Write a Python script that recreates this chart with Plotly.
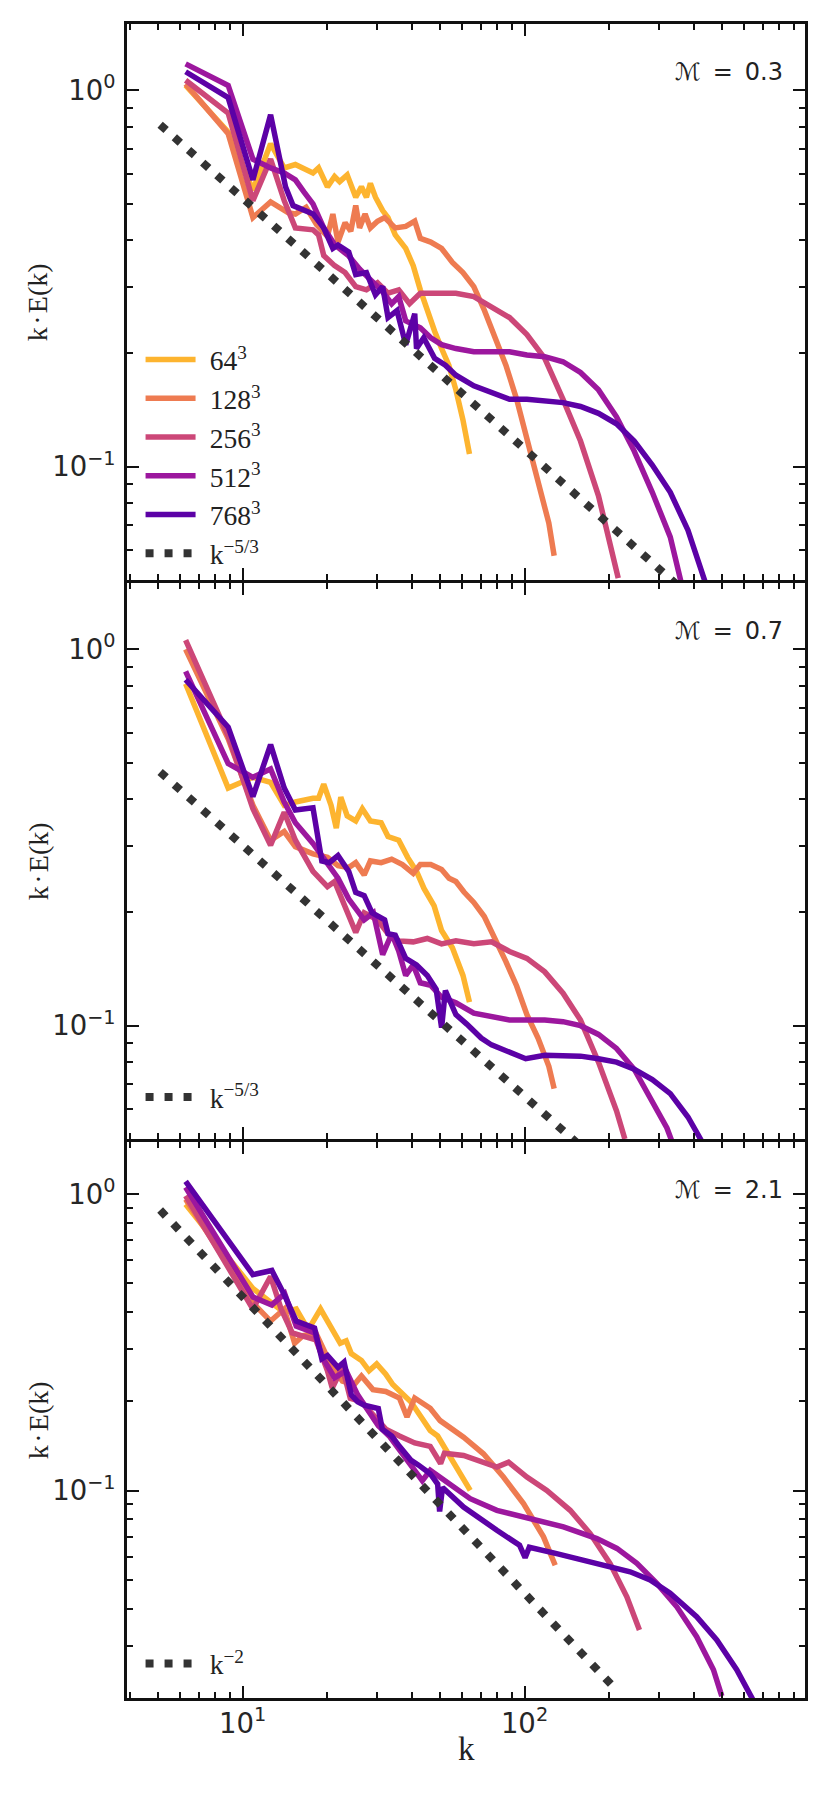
import plotly.graph_objects as go
from plotly.subplots import make_subplots

# resolutions and colours (plasma-like)
labels = ["64<sup>3</sup>", "128<sup>3</sup>", "256<sup>3</sup>", "512<sup>3</sup>", "768<sup>3</sup>"]
colors = ["#FDB42F", "#EE7B51", "#CC4778", "#9C179E", "#5C01A6"]
mach_labels = ["0.3", "0.7", "2.1"]
slope_labels = ["k<sup>\u22125/3</sup>", "k<sup>\u22125/3</sup>", "k<sup>\u22122</sup>"]

# ---- panel 1 : M = 0.3 ----
p1_64_k = [6.28, 8.89, 10.88, 12.57, 14.05, 15.39, 17.77, 18.6, 20.0, 21.2, 22.1, 23.5, 25.2, 26.4, 27.5, 28.4, 29.6,
           31.4, 32.8, 34.8, 37.9, 40.3, 42.7, 45.2, 48.0, 50.8, 53.9, 57.1, 60.5, 63.8]
p1_64_y = [1.03, 0.775, 0.543, 0.721, 0.622, 0.635, 0.603, 0.622, 0.554, 0.59, 0.572, 0.596, 0.52, 0.554, 0.52, 0.566,
           0.52, 0.479, 0.459, 0.413, 0.38, 0.342, 0.295, 0.26, 0.229, 0.206, 0.186, 0.16, 0.133, 0.108]
p1_128_k = [6.28, 8.89, 10.88, 12.57, 14.5, 15.39, 16.8, 18.3, 20.0, 20.9, 21.8, 23.1, 24.2, 25.2, 26.0, 27.2, 28.4,
            30.1, 31.9, 34.8, 37.9, 40.8, 42.7, 46.5, 50.8, 55.5, 60.5, 66.1, 72.1, 78.7, 85.9, 93.8, 102, 111.7, 122, 127.4]
p1_128_y = [1.04, 0.767, 0.459, 0.505, 0.473, 0.469, 0.489, 0.44, 0.409, 0.469, 0.395, 0.445, 0.422, 0.494, 0.431,
            0.469, 0.431, 0.449, 0.459, 0.431, 0.435, 0.449, 0.404, 0.395, 0.38, 0.349, 0.328, 0.301, 0.26, 0.22, 0.186,
            0.151, 0.1197, 0.093, 0.0708, 0.058]
p1_256_k = [6.28, 8.89, 10.88, 12.57, 14.05, 15.39, 17.77, 18.6, 19.4, 21.2, 23.1, 25.2, 27.5, 30.1, 32.8, 35.8, 39.1,
            42.7, 49.4, 57.1, 66.1, 76.4, 88.5, 102, 118, 137, 158, 183, 200, 215]
p1_256_y = [1.063, 0.87, 0.509, 0.656, 0.509, 0.431, 0.426, 0.413, 0.364, 0.342, 0.328, 0.301, 0.295, 0.308, 0.289,
            0.295, 0.271, 0.289, 0.289, 0.289, 0.283, 0.266, 0.249, 0.2245, 0.194, 0.151, 0.117, 0.0837, 0.0623, 0.0506]
p1_512_k = [6.28, 8.89, 10.88, 12.57, 14.05, 15.39, 16.5, 17.77, 19.4, 21.2, 23.8, 26.0, 28.4, 31.0, 33.8, 35.8, 37.9,
            42.7, 46.5, 50.8, 57.1, 66.1, 76.4, 88.5, 102, 118, 137, 158, 183, 212, 245, 284, 329, 353, 370]
p1_512_y = [1.175, 1.03, 0.656, 0.622, 0.603, 0.578, 0.537, 0.499, 0.431, 0.389, 0.363, 0.335, 0.314, 0.295, 0.271,
            0.283, 0.244, 0.234, 0.22, 0.211, 0.206, 0.202, 0.202, 0.202, 0.198, 0.196, 0.19, 0.178, 0.16, 0.1357, 0.11,
            0.0855, 0.065, 0.0527, 0.045]
p1_768_k = [6.28, 8.89, 10.88, 12.57, 14.2, 15.1, 17.8, 19.4, 20.9, 21.8, 23.8, 25.2, 27.5, 29.6, 31.4, 32.8, 35.3,
            37.9, 40.8, 41.4, 43.9, 48.0, 52.4, 57.1, 66.1, 76.4, 88.5, 102, 118, 137, 158, 183, 212, 245, 284, 329, 380,
            434, 470]
p1_768_y = [1.12, 0.956, 0.578, 0.861, 0.554, 0.494, 0.469, 0.431, 0.38, 0.388, 0.372, 0.324, 0.328, 0.286, 0.301,
            0.249, 0.26, 0.211, 0.255, 0.206, 0.22, 0.194, 0.186, 0.175, 0.164, 0.157, 0.151, 0.151, 0.149, 0.148,
            0.1445, 0.1386, 0.13, 0.117, 0.101, 0.0855, 0.0678, 0.0506, 0.042]
p1_ref_k = [5.1, 1000]
p1_ref_y = [0.81, 0.024]

# ---- panel 2 : M = 0.7 ----
p2_64_k = [6.28, 8.89, 10.88, 12.57, 14.05, 15.39, 17.77, 18.6, 19.4, 20.6, 21.5, 22.3, 23.5, 25.2, 26.6, 28.4, 31.0,
           32.8, 35.8, 38.5, 41.4, 44.0, 47.8, 50.8, 55.5, 60.5, 63.8]
p2_64_y = [0.81, 0.428, 0.457, 0.443, 0.385, 0.393, 0.402, 0.402, 0.438, 0.385, 0.335, 0.405, 0.361, 0.35, 0.377, 0.35,
           0.346, 0.318, 0.311, 0.28, 0.257, 0.2315, 0.208, 0.179, 0.161, 0.136, 0.1155]
p2_128_k = [6.28, 8.89, 10.88, 12.57, 14.05, 15.39, 17.77, 20.0, 21.8, 23.8, 25.2, 27.0, 28.4, 31.0, 33.8, 36.9, 40.3,
            42.7, 46.5, 50.8, 54.0, 57.1, 61.0, 66.1, 72.0, 78.7, 85.9, 93.8, 102, 111.7, 122, 127.4]
p2_128_y = [1.0, 0.578, 0.385, 0.311, 0.328, 0.299, 0.286, 0.28, 0.266, 0.263, 0.271, 0.2515, 0.274, 0.271, 0.277,
            0.268, 0.254, 0.268, 0.268, 0.26, 0.2465, 0.2415, 0.2265, 0.2125, 0.195, 0.171, 0.148, 0.1275, 0.107,
            0.0927, 0.078, 0.068]
p2_256_k = [6.28, 8.89, 10.88, 12.57, 14.05, 15.39, 17.77, 20.0, 21.2, 23.1, 25.2, 27.0, 30.1, 32.8, 35.8, 40.3, 45.2,
            50.8, 57.1, 66.1, 76.4, 88.5, 102, 118, 137, 158, 183, 212, 227]
p2_256_y = [1.057, 0.589, 0.377, 0.3015, 0.369, 0.311, 0.257, 0.234, 0.2415, 0.208, 0.177, 0.1995, 0.191, 0.1755,
            0.168, 0.167, 0.1705, 0.165, 0.168, 0.165, 0.167, 0.1575, 0.151, 0.139, 0.122, 0.1035, 0.080, 0.0594, 0.05]
p2_512_k = [6.28, 8.89, 10.88, 12.57, 14.05, 15.39, 17.77, 20.0, 21.8, 23.8, 26.0, 27.0, 29.1, 31.4, 33.8, 35.8, 37.9,
            40.3, 42.7, 46.5, 50.8, 57.1, 66.1, 76.4, 88.5, 102, 118, 137, 158, 183, 212, 245, 284, 320, 345]
p2_512_y = [0.874, 0.497, 0.457, 0.481, 0.393, 0.346, 0.305, 0.2685, 0.2465, 0.217, 0.1995, 0.191, 0.1995, 0.1545,
            0.1755, 0.158, 0.136, 0.145, 0.13, 0.128, 0.119, 0.115, 0.108, 0.1054, 0.1035, 0.1035, 0.1035, 0.1025, 0.1,
            0.0948, 0.087, 0.0766, 0.063, 0.0535, 0.046]
p2_768_k = [6.28, 8.89, 10.88, 12.57, 14.05, 15.39, 17.77, 19.1, 20.3, 21.8, 23.8, 25.2, 27.0, 28.8, 31.9, 32.8, 34.8,
            37.9, 41.4, 45.2, 48.6, 50.8, 52.4, 57.1, 62.4, 70.2, 76.4, 88.5, 101, 118, 137, 158, 183, 212, 245, 284,
            329, 380, 421, 450]
p2_768_y = [0.83, 0.621, 0.406, 0.558, 0.428, 0.374, 0.379, 0.274, 0.271, 0.283, 0.257, 0.226, 0.2215, 0.1995, 0.191,
            0.1755, 0.174, 0.151, 0.145, 0.136, 0.125, 0.0988, 0.124, 0.107, 0.101, 0.0927, 0.0889, 0.0852, 0.0817,
            0.0834, 0.0834, 0.083, 0.0817, 0.08, 0.0766, 0.0719, 0.066, 0.0572, 0.05, 0.045]
p2_ref_k = [5.1, 1000]
p2_ref_y = [0.472, 0.014]

# ---- panel 3 : M = 2.1 ----
p3_64_k = [6.28, 10.88, 12.57, 14.05, 15.5, 17.1, 18.9, 20.5, 22.2, 23.3, 24.3, 26.4, 28.1, 29.9, 32.2, 34.1, 36.0,
           39.5, 43.4, 46.3, 49.2, 54.5, 64.2]
p3_64_y = [0.925, 0.481, 0.4325, 0.3993, 0.41, 0.3495, 0.41, 0.3545, 0.3143, 0.3205, 0.29, 0.275, 0.2538, 0.2677,
           0.2472, 0.2282, 0.2164, 0.1997, 0.1748, 0.1596, 0.153, 0.1297, 0.1003]
p3_128_k = [6.28, 10.88, 12.57, 14.05, 15.3, 16.4, 18.2, 20.5, 22.6, 24.9, 26.4, 29.0, 32.2, 36.0, 38.3, 40.8, 46.3,
            50.2, 60.8, 71.5, 84.2, 99.2, 116.8, 128.5]
p3_128_y = [0.962, 0.43, 0.3735, 0.41, 0.3143, 0.334, 0.3404, 0.2677, 0.2343, 0.2282, 0.2438, 0.2193, 0.2162, 0.2054,
            0.1772, 0.2054, 0.1898, 0.1724, 0.1515, 0.1332, 0.1112, 0.0905, 0.0699, 0.0561]
p3_256_k = [6.28, 10.88, 12.57, 13.7, 15.0, 18.2, 20.0, 20.8, 22.6, 24.1, 26.4, 29.0, 32.2, 36.0, 40.8, 46.3, 50.4,
            52.0, 60.8, 79.8, 87.8, 102, 120, 145.2, 171, 201, 230.7, 255.7]
p3_256_y = [0.988, 0.41, 0.528, 0.41, 0.3404, 0.3226, 0.2538, 0.2222, 0.2607, 0.205, 0.1997, 0.1795, 0.1614, 0.153,
            0.145, 0.1412, 0.1236, 0.1339, 0.1315, 0.1202, 0.1249, 0.1112, 0.1003, 0.0859, 0.0717, 0.0569, 0.0439, 0.0339]
p3_512_k = [6.28, 10.88, 12.7, 14.1, 15.5, 18.0, 19.3, 21.2, 23.3, 25.6, 28.1, 30.3, 33.1, 36.0, 39.5, 43.4, 46.3,
            52.0, 64.2, 79.8, 104.8, 137.5, 180.6, 212.7, 250.4, 294.8, 347, 408, 468, 501]
p3_512_y = [1.056, 0.45, 0.4233, 0.4623, 0.359, 0.3404, 0.2787, 0.2407, 0.2538, 0.2105, 0.1844, 0.1657, 0.153, 0.1375,
            0.1236, 0.1082, 0.1172, 0.1082, 0.094, 0.0859, 0.0805, 0.0755, 0.069, 0.0639, 0.0569, 0.0487, 0.0406,
            0.0322, 0.0249, 0.0203]
p3_768_k = [6.28, 10.88, 12.7, 14.1, 15.5, 18.0, 19.1, 20.0, 21.8, 22.9, 24.3, 25.6, 27.0, 30.3, 31.3, 33.8, 36.0,
            39.5, 42.1, 46.3, 49.2, 50.0, 51.2, 60.8, 79.8, 96, 100.5, 104, 130, 180.6, 237, 279, 328.6, 408, 481, 566,
            640, 660]
p3_768_y = [1.105, 0.5355, 0.553, 0.456, 0.3735, 0.354, 0.2787, 0.286, 0.2607, 0.2715, 0.2105, 0.1997, 0.1944, 0.1893,
            0.1614, 0.153, 0.1412, 0.1269, 0.122, 0.1141, 0.1053, 0.0851, 0.1026, 0.0881, 0.0736, 0.0655, 0.0595,
            0.0645, 0.0614, 0.0569, 0.0533, 0.050, 0.0451, 0.0376, 0.0314, 0.0249, 0.0203, 0.019]
p3_ref_k = [5.1, 207]
p3_ref_y = [0.884, 0.0218]

panels = [
    ([(p1_64_k, p1_64_y), (p1_128_k, p1_128_y), (p1_256_k, p1_256_y), (p1_512_k, p1_512_y), (p1_768_k, p1_768_y)],
     (p1_ref_k, p1_ref_y)),
    ([(p2_64_k, p2_64_y), (p2_128_k, p2_128_y), (p2_256_k, p2_256_y), (p2_512_k, p2_512_y), (p2_768_k, p2_768_y)],
     (p2_ref_k, p2_ref_y)),
    ([(p3_64_k, p3_64_y), (p3_128_k, p3_128_y), (p3_256_k, p3_256_y), (p3_512_k, p3_512_y), (p3_768_k, p3_768_y)],
     (p3_ref_k, p3_ref_y)),
]
y_ranges = [[-1.30103, 0.176091], [-1.30103, 0.176091], [-1.69897, 0.176091]]
legend_names = ["legend", "legend2", "legend3"]
gap = "\u2004"  # a little room between legend symbol and its text

# small gap so the touching frame lines of neighbouring panels coincide
fig = make_subplots(rows=3, cols=1, shared_xaxes=True, vertical_spacing=0.0018)

for r, (series, ref) in enumerate(panels, start=1):
    for (k, y), name, c in zip(series, labels, colors):
        fig.add_trace(go.Scatter(x=k, y=y, mode="lines", name=gap + name,
                                 line=dict(color=c, width=5.5),
                                 showlegend=(r == 1), legend=legend_names[r - 1]),
                      row=r, col=1)
    fig.add_trace(go.Scatter(x=ref[0], y=ref[1], mode="lines", name=gap + slope_labels[r - 1],
                             line=dict(color="#333333", width=8, dash="8px,11px"),
                             legend=legend_names[r - 1]),
                  row=r, col=1)

axis_style = dict(
    type="log", showline=True, linecolor="#111111", linewidth=3, mirror="allticks",
    ticks="inside", ticklen=12, tickwidth=2, tickcolor="#111111",
    showgrid=False, zeroline=False, dtick=1, tick0=0, exponentformat="power",
    labelalias={"1": "10<sup>0</sup>", "10": "10<sup>1</sup>"},
    tickfont=dict(family="DejaVu Sans", size=22, color="#262626"),
    minor=dict(ticks="inside", ticklen=6, tickwidth=1.5, tickcolor="#111111", dtick="D1", showgrid=False),
)

for r in range(1, 4):
    fig.update_xaxes(axis_style, range=[0.59, 2.995], row=r, col=1)
    fig.update_yaxes(axis_style, range=y_ranges[r - 1], ticklabelstandoff=4, row=r, col=1)

# axis titles and Mach labels
serif = "Liberation Serif"
for i, m in enumerate(mach_labels):
    sfx = "" if i == 0 else str(i + 1)
    fig.add_annotation(text="k\u200a\u00b7\u200aE(k)", textangle=-90, xref="paper", yref=f"y{sfx} domain",
                       x=-0.131, y=0.5, xanchor="center", yanchor="middle", showarrow=False,
                       font=dict(family=serif, size=28, color="#222222"))
    fig.add_annotation(text=f"\u2133\u2002=\u2002{m}", xref=f"x{sfx} domain", yref=f"y{sfx} domain",
                       x=0.97, y=0.914, xanchor="right", yanchor="middle", showarrow=False,
                       font=dict(family="DejaVu Sans", size=24, color="#222222"))
fig.add_annotation(text="k", xref="paper", yref="paper", x=0.5, y=-0.0305, xanchor="center", yanchor="middle",
                   showarrow=False, font=dict(family=serif, size=33, color="#222222"))

legend_style = dict(xanchor="left", yanchor="middle", bgcolor="rgba(0,0,0,0)", itemwidth=50,
                    font=dict(family=serif, size=27.5, color="#222222"))
# the page body adds an 8px offset, so the figure is drawn 8px smaller
fig.update_layout(
    width=822, height=1786,
    margin=dict(l=119, r=25, t=16, b=96),
    paper_bgcolor="white", plot_bgcolor="white",
    legend=dict(legend_style, x=0.020, y=0.7415),
    legend2=dict(legend_style, x=0.020, y=0.359),
    legend3=dict(legend_style, x=0.020, y=0.0205),
)

fig.write_html("out.html")
